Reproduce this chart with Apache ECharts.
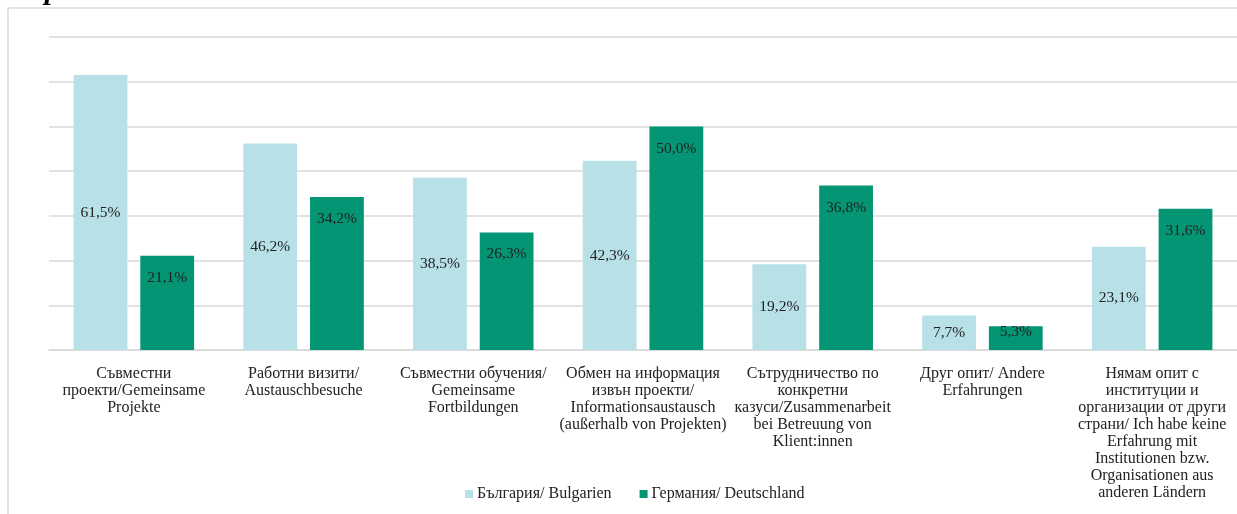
<!DOCTYPE html>
<html><head><meta charset="utf-8">
<script src="https://cdn.jsdelivr.net/npm/echarts@6/dist/echarts.min.js"></script>
<style>html,body{margin:0;padding:0;background:#fff}#c{width:1237px;height:514px}</style>
</head><body><div id="c"></div>
<script>
const categories = [
  "Съвместни\nпроекти/Gemeinsame\nProjekte",
  "Работни визити/\nAustauschbesuche",
  "Съвместни обучения/\nGemeinsame\nFortbildungen",
  "Обмен на информация\nизвън проекти/\nInformationsaustausch\n(außerhalb von Projekten)",
  "Сътрудничество по\nконкретни\nказуси/Zusammenarbeit\nbei Betreuung von\nKlient:innen",
  "Друг опит/ Andere\nErfahrungen",
  "Нямам опит с\nинституции и\nорганизации от други\nстрани/ Ich habe keine\nErfahrung mit\nInstitutionen bzw.\nOrganisationen aus\nanderen Ländern"
];
const seriesNames = ["България/ Bulgarien", "Германия/ Deutschland"];
const bulgaria = [61.5, 46.2, 38.5, 42.3, 19.2, 7.7, 23.1];
const germany = [21.1, 34.2, 26.3, 50.0, 36.8, 5.3, 31.6];
const titleText = "страни.";

const FONT = "'Liberation Serif', 'Times New Roman', serif";
const fmt = p => p.value.toFixed(1).replace('.', ',') + '%';

const chart = echarts.init(document.getElementById('c'), null, {renderer: 'canvas'});
chart.setOption({
  animation: false,
  graphic: [
    {type: 'rect', shape: {x: 8, y: 8, width: 1260, height: 540}, style: {fill: 'none', stroke: '#d9d9d9', lineWidth: 1.5}, z: -1},
    {type: 'text', x: 8, y: 6, style: {text: titleText, font: "italic bold 30px 'Liberation Serif'", fill: '#000', verticalAlign: 'bottom'}}
  ],
  legend: {
    data: seriesNames,
    left: 460, top: 481,
    itemWidth: 8, itemHeight: 8, itemGap: 28,
    icon: 'rect',
    textStyle: {fontFamily: FONT, fontSize: 16, color: '#222', padding: [0, 0, 0, -1]}
  },
  grid: {left: 49, top: 37, width: 1190, height: 313, containLabel: false},
  xAxis: {
    type: 'category', data: categories,
    axisLine: {lineStyle: {color: '#d9d9d9', width: 1.5}},
    axisTick: {show: false},
    axisLabel: {interval: 0, margin: 15, fontFamily: FONT, fontSize: 16, color: '#222', lineHeight: 17, align: 'center'}
  },
  yAxis: {
    type: 'value', min: 0, max: 70, interval: 10,
    axisLabel: {show: false}, axisLine: {show: false}, axisTick: {show: false},
    splitLine: {lineStyle: {color: '#d9d9d9', width: 1.5}}
  },
  series: [
    {
      name: seriesNames[0], type: 'bar', data: bulgaria,
      barGap: '24%', barCategoryGap: '29%',
      itemStyle: {color: '#b7e1e7'},
      label: {show: true, position: 'inside', formatter: fmt, fontFamily: FONT, fontSize: 15.5, color: '#222'}
    },
    {
      name: seriesNames[1], type: 'bar',
      data: germany.map(v => v < 10 ? {value: v, label: {distance: -2}} : v),
      itemStyle: {color: '#039574'},
      label: {show: true, position: 'insideTop', distance: 14, formatter: fmt, fontFamily: FONT, fontSize: 15.5, color: '#222'}
    }
  ]
});
</script></body></html>
